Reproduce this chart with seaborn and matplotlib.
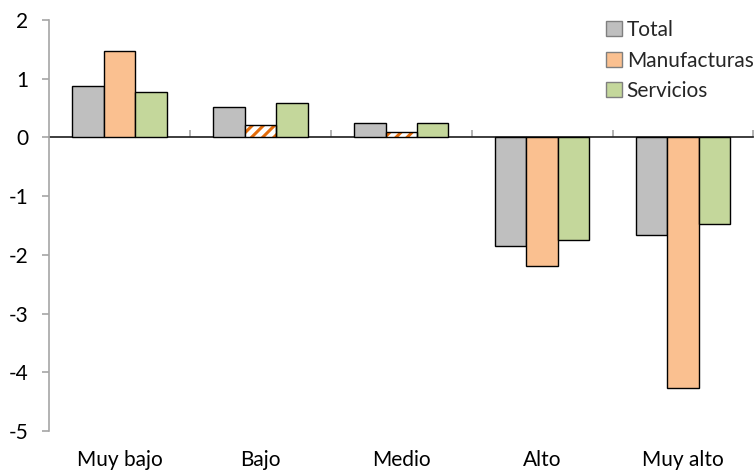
import matplotlib
matplotlib.use("Agg")
import matplotlib.pyplot as plt
from matplotlib.patches import Patch, Rectangle
import pandas as pd
import seaborn as sns

# Categories and series
categories = ["Muy bajo", "Bajo", "Medio", "Alto", "Muy alto"]
series = ["Total", "Manufacturas", "Servicios"]
total = [0.87, 0.52, 0.25, -1.85, -1.67]
manufacturas = [1.47, 0.22, 0.09, -2.19, -4.26]
servicios = [0.77, 0.59, 0.25, -1.75, -1.47]
# Manufacturing bars drawn with a striped fill
hatched_categories = ["Bajo", "Medio"]
y_ticks = [-5, -4, -3, -2, -1, 0, 1, 2]

colors = {"Total": "#BFBFBF", "Manufacturas": "#FAC090", "Servicios": "#C4D79B"}
hatch_color = "#E46C0A"
axis_gray = "#A6A6A6"

df = pd.DataFrame({
    "categoria": categories * 3,
    "serie": [s for s in series for _ in categories],
    "valor": total + manufacturas + servicios,
})

sns.set_theme(style="white")
plt.rcParams["font.family"] = ["Lato", "DejaVu Sans"]
plt.rcParams["hatch.linewidth"] = 2.2

fig = plt.figure(figsize=(7.55, 4.71), dpi=100)
ax = fig.add_axes([0.065, 0.085, 0.933, 0.8725])

sns.barplot(data=df, x="categoria", y="valor", hue="serie", order=categories,
            hue_order=series, palette=colors, width=0.67, edgecolor="black",
            linewidth=1.0, saturation=1, legend=False, ax=ax)

# Striped bars: white fill with orange stripes, black outline on top
manuf_bars = ax.containers[series.index("Manufacturas")]
for cat in hatched_categories:
    bar = manuf_bars[categories.index(cat)]
    bar.set_facecolor("white")
    bar.set_edgecolor(hatch_color)
    bar.set_linewidth(0)
    bar.set_hatch("///")
    ax.add_patch(Rectangle((bar.get_x(), bar.get_y()), bar.get_width(),
                           bar.get_height(), fill=False, edgecolor="black",
                           linewidth=1.0, zorder=bar.get_zorder() + 0.1))

ax.set_ylim(y_ticks[0], y_ticks[-1])
ax.set_xlim(-0.5, len(categories) - 0.5)
ax.set_yticks(y_ticks)
ax.set_yticklabels([str(t) for t in y_ticks])
ax.set_xlabel("")
ax.set_ylabel("")

for side in ["top", "right", "bottom"]:
    ax.spines[side].set_visible(False)
ax.spines["left"].set_color(axis_gray)
ax.spines["left"].set_linewidth(1.2)

ax.tick_params(axis="y", direction="out", length=5, width=1.2, color=axis_gray,
               labelsize=15, labelcolor="black", pad=10, left=True)
ax.tick_params(axis="x", length=0, labelsize=15, labelcolor="black", pad=14)

# Zero line with category separators
zero_frac = (0 - y_ticks[0]) / (y_ticks[-1] - y_ticks[0])
sec = ax.secondary_xaxis(zero_frac)
sec.spines["bottom"].set_color(axis_gray)
sec.spines["bottom"].set_linewidth(1.2)
sec.set_xticks([i + 0.5 for i in range(len(categories))])
sec.set_xticklabels([])
sec.tick_params(axis="x", direction="out", length=5, width=1.2, color=axis_gray)

handles = [Patch(facecolor=colors[s], edgecolor="#7F7F7F", linewidth=1.0, label=s)
           for s in series]
ax.legend(handles=handles, loc="upper right", bbox_to_anchor=(1.012, 1.02),
          frameon=False, fontsize=15, handlelength=0.75, handleheight=0.75,
          handletextpad=0.25, labelspacing=0.5, borderaxespad=0.0)

fig.savefig("out.png", dpi=100)
